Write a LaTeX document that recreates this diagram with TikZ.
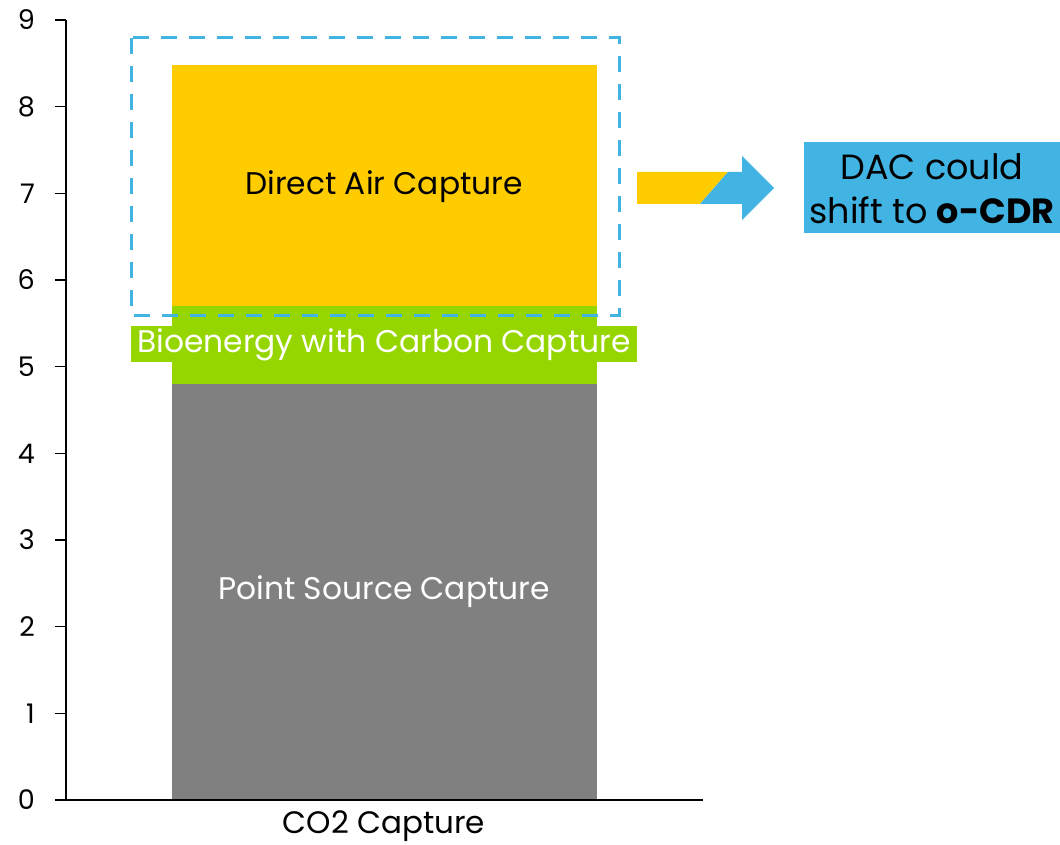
\documentclass[tikz,border=0pt]{standalone}
\usepackage{fontspec}
\setmainfont{Poppins}
\definecolor{dacyellow}{HTML}{FFCC00}
\definecolor{beccsgreen}{HTML}{96D600}
\definecolor{pscgray}{HTML}{808080}
\definecolor{hlblue}{HTML}{41B4E4}
\tikzset{
  axisline/.style={line width=1.6pt, black},
  ticklabel/.style={anchor=east, inner sep=0pt, font=\fontsize{27}{30}\selectfont},
  barlabel/.style={inner sep=0pt, font=\fontsize{31.3}{34}\selectfont},
  dashbox/.style={draw=hlblue, line width=3pt, dash pattern=on 16pt off 12pt},
}
\begin{document}
\begin{tikzpicture}[x=1pt,y=-1pt]
\useasboundingbox (0,0) rectangle (1060,845);
% bars
\fill[pscgray] (172,384) rectangle (597,800);
\fill[beccsgreen] (172,306) rectangle (597,384);
\fill[dacyellow] (172,65) rectangle (597,306);
% highlight box
\draw[dashbox] (131,38) rectangle (619,315);
% beccs label box
\fill[beccsgreen] (131,326) rectangle (637,362);
\node[barlabel, text=white] (beccs) at (384,345) {Bioenergy with Carbon Capture};
\node[barlabel, text=black] (dac) at (384,187) {Direct Air Capture};
\node[barlabel, text=white] (psc) at (384,592) {Point Source Capture};
% axes
\draw[axisline] (66,20) -- (66,800);
\draw[axisline] (55,800) -- (703,800);
\foreach \v in {0,...,9} {
  \pgfmathsetmacro{\yy}{800-86.667*\v}
  \draw[axisline] (55,\yy) -- (66,\yy);
  \node[ticklabel] (t\v) at (35,\yy) {\v};
}
\node[barlabel, font=\fontsize{31}{34}\selectfont] (xlab) at (384,826) {CO2 Capture};
% arrow
\fill[dacyellow] (637,172) -- (728,172) -- (700,204) -- (637,204) -- cycle;
\fill[hlblue] (728,172) -- (742,172) -- (742,156) -- (774,188) -- (742,220) -- (742,204) -- (700,204) -- cycle;
% DAC note box
\fill[hlblue] (804,142) rectangle (1060,233);
\node[align=center, inner sep=0pt, font=\fontsize{35}{44}\selectfont] (note) at (932,189) {DAC could\\shift to \textbf{o-CDR}};
\end{tikzpicture}
\end{document}
